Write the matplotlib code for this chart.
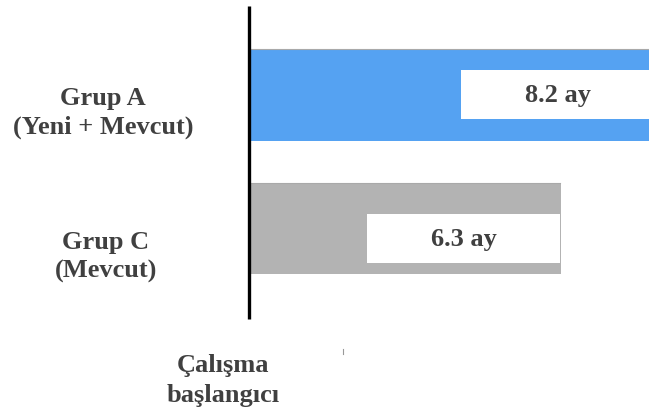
import matplotlib.pyplot as plt
from matplotlib.patches import Rectangle

plt.rcParams['font.family'] = ['Liberation Serif', 'DejaVu Serif']

# veriler (ay)
groups = ['Grup A\n(Yeni + Mevcut)', 'Grup C\n(Mevcut)']
months = [8.2, 6.3]
colors = ['#55a2f2', '#b3b3b3']
labels = ['8.2 ay', '6.3 ay']

text_color = '#404040'

fig = plt.figure(figsize=(6.49, 4.10), dpi=100)
ax = fig.add_axes([0, 0, 1, 1])
ax.set_xlim(-5.04, 8.10)
ax.set_ylim(2.352, -0.719)
ax.axis('off')

bar_h = 0.685
box_w = 3.9
box_h = 0.367
box_shift = [0.0, 0.075]

for i, (g, m, c, lab) in enumerate(zip(groups, months, colors, labels)):
    ax.barh(i, m, height=bar_h, left=0.02, color=c, edgecolor='none', zorder=1)
    # üst kenardaki ince çizgi
    ax.plot([0.02, m], [i - bar_h / 2, i - bar_h / 2], color='#a9a9a9', lw=0.8, zorder=2)
    # değer kutusu
    y0 = i + box_shift[i] - box_h / 2
    ax.add_patch(Rectangle((m - box_w, y0), box_w, box_h, facecolor='white',
                           edgecolor='none', zorder=3))
    ax.text(m - box_w / 2, i + box_shift[i], lab, ha='center', va='center',
            fontsize=19, fontweight='bold', color=text_color, zorder=4)

# grup etiketleri
ax.text(-2.955, 0.127, groups[0], ha='center', va='center', fontsize=19,
        fontweight='bold', color=text_color, linespacing=1.35)
ax.text(-2.9, 1.206, groups[1], ha='center', va='center', fontsize=19,
        fontweight='bold', color=text_color, linespacing=1.35)

# başlangıç çizgisi
ax.plot([0, 0], [-0.667, 1.678], color='black', lw=2.4, solid_capstyle='butt', zorder=5)
ax.plot([1.91, 1.91], [1.905, 1.94], color='#999999', lw=0.8)

ax.text(-0.53, 2.13, 'Çalışma\nbaşlangıcı', ha='center', va='center', fontsize=19,
        fontweight='bold', color=text_color, linespacing=1.35)

fig.savefig('out.png', dpi=100)
